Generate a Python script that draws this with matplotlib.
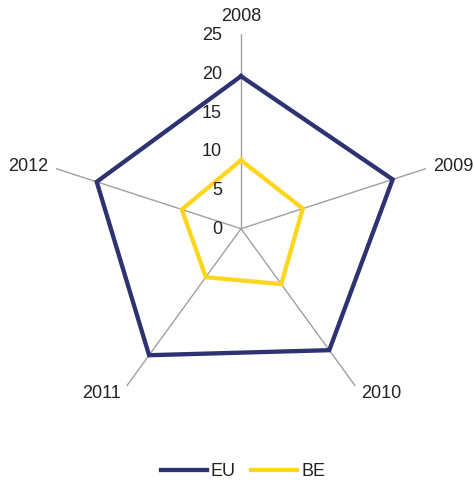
import numpy as np
import matplotlib
matplotlib.use("Agg")
import matplotlib.pyplot as plt

categories = ["2008", "2009", "2010", "2011", "2012"]
eu = [19.6, 20.5, 19.3, 20.1, 19.5]
be = [8.8, 8.35, 8.8, 7.7, 8.0]
rticks = [0, 5, 10, 15, 20, 25]

plt.rcParams['font.family'] = ['Liberation Sans', 'DejaVu Sans']
txt_color = '#222222'
fs = 13

fig = plt.figure(figsize=(4.74, 4.83), dpi=100)
W, H = 474, 483
cx, cy, R = 241, 228.7, 194.5
ax = fig.add_axes([(cx - R) / W, (H - cy - R) / H, 2 * R / W, 2 * R / H], projection='polar')
ax.set_theta_zero_location('N')
ax.set_theta_direction(-1)
ax.set_ylim(0, 25)

n = len(categories)
theta = np.arange(n) * 2 * np.pi / n

# spokes
for t in theta:
    ax.plot([t, t], [0, 25], color='#a0a0a0', lw=1.0, zorder=1)

th_c = np.append(theta, theta[0])
ax.plot(th_c, eu + [eu[0]], color='#2d3270', lw=3.1, solid_joinstyle='miter', zorder=3, label='EU')
ax.plot(th_c, be + [be[0]], color='#ffd61e', lw=3.1, solid_joinstyle='miter', zorder=3, label='BE')

ax.grid(False)
ax.spines['polar'].set_visible(False)
ax.set_xticks([])
ax.set_yticks([])

# radial tick labels
for v in rticks:
    ax.annotate(str(v), xy=(0, v), xytext=(-19, -1), textcoords='offset pixels',
                ha='right', va='center', fontsize=fs, color=txt_color)

# category labels
offsets = [((0, 18), 'center'), ((7, 2), 'left'), ((6, -7), 'left'),
           ((-6, -7), 'right'), ((-8, 2), 'right')]
for t, lab, (off, ha) in zip(theta, categories, offsets):
    ax.annotate(lab, xy=(t, 25), xytext=off, textcoords='offset pixels',
                ha=ha, va='center', fontsize=fs, color=txt_color)

fig.legend(loc='center', bbox_to_anchor=(243 / W, 1 - 471.7 / H), ncol=2, frameon=False,
           fontsize=fs, handlelength=2.55, handletextpad=0.22, columnspacing=0.85,
           labelcolor=txt_color)

fig.savefig('out.png', dpi=100)
